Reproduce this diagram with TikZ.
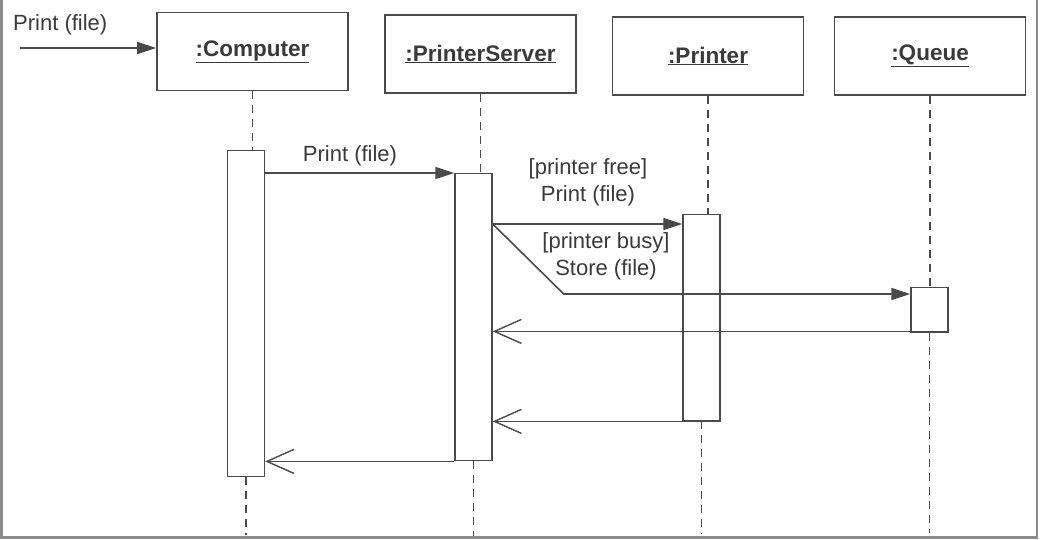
\documentclass[tikz,border=0pt]{standalone}
\usepackage{fontspec}
\setmainfont{Liberation Sans}
\usetikzlibrary{arrows.meta,calc}
\definecolor{ink}{HTML}{4A4A4A}
\definecolor{txt}{HTML}{3A3A3A}
\definecolor{frame}{HTML}{8A8A8A}
\begin{document}
\begin{tikzpicture}[x=1pt,y=-1pt,
  lbl/.style={text=txt,font=\fontsize{22}{27}\selectfont,inner sep=0pt,align=center},
  objbox/.style={draw=ink,line width=1.6pt,minimum width=191pt,minimum height=78pt,inner sep=0pt,
    text=txt,font=\fontsize{22.5}{26}\selectfont\bfseries},
  actbox/.style={draw=ink,line width=1.4pt,minimum width=37pt,inner sep=0pt,anchor=north},
  life/.style={draw=ink,line width=1.3pt,dash pattern=on 8pt off 6pt},
  call/.style={draw=ink,line width=1.6pt,-{Triangle[length=19pt,width=12pt]}},
  ret/.style={draw=ink,line width=1.4pt,-{Straight Barb[length=27pt,width=24pt,line width=1.4pt]}}]
\useasboundingbox (0,0) rectangle (1041,540);
\fill[white] (0,0) rectangle (1041,540);
\draw[frame,line width=2.5pt] (1.5,0) -- (1.5,537.5) -- (1037,537.5) -- (1037,0);

% object boxes
\node[objbox] (comp) at (252.5,51.5) {\underline{:Computer}};
\node[objbox] (serv) at (480.5,54) {\underline{:PrinterServer}};
\node[objbox] (prnt) at (708,56) {\underline{:Printer}};
\node[objbox] (queu) at (930,56) {\underline{:Queue}};

% activations
\node[actbox,minimum height=326pt] (a1) at (246,150) {};
\node[actbox,minimum height=287pt] (a2) at (473.5,173) {};
\node[actbox,minimum height=206pt] (a3) at (701.5,214) {};
\node[actbox,minimum height=45pt] (a4) at (929.5,287) {};

% lifelines
\draw[life] (comp.south) -- (comp.south |- a1.north);
\draw[life] (serv.south) -- (serv.south |- a2.north);
\draw[life] (prnt.south) -- (prnt.south |- a3.north);
\draw[life] (queu.south) -- (queu.south |- a4.north);
\draw[life] (a1.south) -- ++(0,58);
\draw[life] (a2.south) -- ++(0,75);
\draw[life] (a3.south) -- ++(0,113);
\draw[life] (a4.south) -- ++(0,200);

% entry message
\coordinate (ent) at (20,48);
\node[lbl,anchor=west] (l0) at (13,25) {Print (file)};
\draw[call] (ent) -- (ent -| comp.west);

% Print(file) computer -> server
\draw[call] (a1.east |- a2.north west) -- (a2.north west);
\node[lbl] (l1) at (350,156) {Print (file)};

% printer free
\coordinate (s2) at ([yshift=-51pt]a2.north east);
\draw[call] (s2) -- (s2 -| a3.west);
\node[lbl] (l2) at (588,182) {[printer free]\\Print (file)};

% printer busy
\draw[call] (s2) -- ++(71,70) -- ([yshift=-7pt]a4.north west);
\node[lbl] (l3) at (606,256) {[printer busy]\\Store (file)};

% returns
\coordinate (r1) at ([yshift=2pt]a4.south east);
\draw[ret] (r1) -- (r1 -| a2.east);
\draw[ret] (a3.south east) -- (a3.south east -| a2.east);
\draw[ret] (a2.south west) -- (a2.south west -| a1.east);
\end{tikzpicture}
\end{document}
